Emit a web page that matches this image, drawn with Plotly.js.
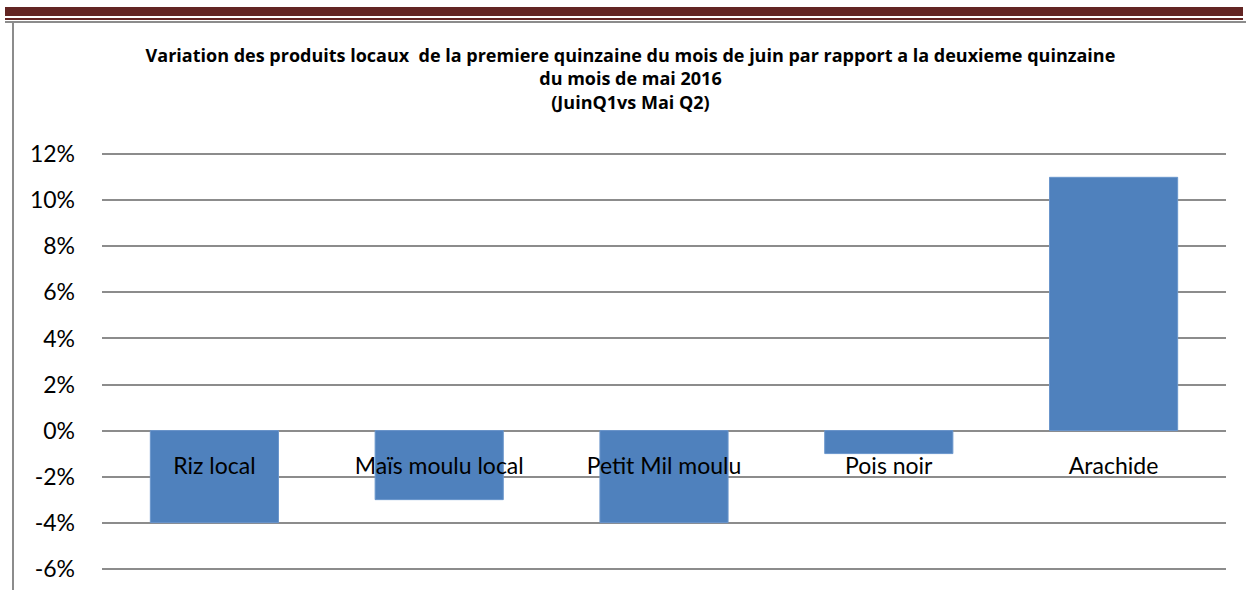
<!DOCTYPE html>
<html>
<head>
<meta charset="utf-8">
<script src="https://cdn.plot.ly/plotly-3.0.1.min.js"></script>
<style>
  html, body { margin: 0; padding: 0; background: #fff; }
  #wrap { position: relative; width: 1246px; height: 590px; overflow: hidden; }
  #chart { position: absolute; left: 0; top: 0; width: 1246px; height: 590px; }
  .deco { position: absolute; pointer-events: none; }
</style>
</head>
<body>
<div id="wrap">
  <div id="chart"></div>
  <div class="deco" style="left:5px; top:7px; width:1238px; height:9px; background:#632523;"></div>
  <div class="deco" style="left:5px; top:18px; width:1238px; height:2px; background:#632523;"></div>
  <div class="deco" style="left:5px; top:21px; width:1241px; height:2px; background:#8c8c8c;"></div>
  <div class="deco" style="left:12px; top:22px; width:2px; height:568px; background:#8c8c8c;"></div>
</div>
<script>
const categories = ["Riz local", "Maïs moulu local", "Petit Mil moulu", "Pois noir", "Arachide"];
const variation = [-4, -3, -4, -1, 11];
const yTickValues = [-6, -4, -2, 0, 2, 4, 6, 8, 10, 12];
const yTickLabels = ["-6%", "-4%", "-2%", "0%", "2%", "4%", "6%", "8%", "10%", "12%"];
const titleText = "Variation des produits locaux  de la premiere quinzaine du mois de juin par rapport a la deuxieme quinzaine<br>du mois de mai 2016<br>(JuinQ1vs Mai Q2)";

const yMin = -6.1, yMax = 12.1;

const trace = {
  type: "bar",
  x: categories,
  y: variation,
  marker: { color: "#4F81BD", line: { color: "#6a96cc", width: 1 } },
  hoverinfo: "x+y"
};

const layout = {
  width: 1246,
  height: 590,
  paper_bgcolor: "rgba(0,0,0,0)",
  plot_bgcolor: "rgba(0,0,0,0)",
  margin: { l: 102, r: 20, t: 152, b: 19 },
  bargap: 0.43,
  showlegend: false,
  font: { family: "Lato, 'Open Sans', sans-serif", color: "#000" },
  title: {
    text: titleText,
    font: { family: "'Open Sans', Lato, sans-serif", size: 18, color: "#000", weight: "bold" },
    x: 0.506,
    xref: "container",
    xanchor: "center",
    y: 1 - 62 / 590,
    yref: "container",
    yanchor: "top"
  },
  xaxis: {
    type: "category",
    anchor: "free",
    position: (0 - yMin) / (yMax - yMin),
    showgrid: false,
    zeroline: false,
    showline: false,
    ticks: "",
    ticklabelstandoff: 19,
    tickfont: { size: 23, color: "#000" },
    fixedrange: true
  },
  yaxis: {
    range: [yMin, yMax],
    tickvals: yTickValues,
    ticktext: yTickLabels,
    showgrid: true,
    gridcolor: "#8c8c8c",
    gridwidth: 2,
    zeroline: false,
    showline: false,
    ticks: "",
    ticklabelstandoff: 26,
    tickfont: { size: 23, color: "#000" },
    fixedrange: true
  }
};

Plotly.newPlot("chart", [trace], layout, { displayModeBar: false, staticPlot: true });
</script>
</body>
</html>
